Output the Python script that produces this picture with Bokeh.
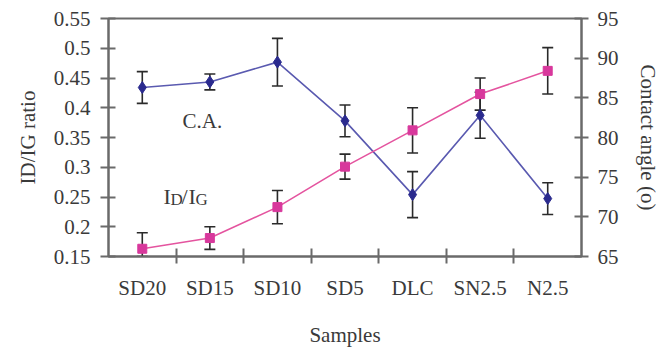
import math
from bokeh.plotting import figure
from bokeh.models import (ColumnDataSource, Range1d, LinearAxis, FixedTicker,
                          Whisker, TeeHead, Label)
from bokeh.embed import file_html
from bokeh.resources import INLINE

# ---- data ----
samples = ["SD20", "SD15", "SD10", "SD5", "DLC", "SN2.5", "N2.5"]
id_ig = [0.163, 0.181, 0.233, 0.301, 0.362, 0.423, 0.462]
id_ig_err = [0.027, 0.019, 0.028, 0.021, 0.038, 0.027, 0.039]
contact_angle = [86.3, 87.0, 89.5, 82.1, 72.8, 82.8, 72.3]
contact_angle_err = [2.0, 1.0, 3.0, 2.0, 2.9, 2.9, 2.0]
left_ticks = [0.15, 0.2, 0.25, 0.3, 0.35, 0.4, 0.45, 0.5, 0.55]
left_tick_labels = ["0.15", "0.2", "0.25", "0.3", "0.35", "0.4", "0.45", "0.5", "0.55"]
right_ticks = [65, 70, 75, 80, 85, 90, 95]
right_tick_labels = ["65", "70", "75", "80", "85", "90", "95"]

FONT = "Liberation Serif"
TXT = "#3a3a3a"
AX = "#6a6a6a"
BLUE_M = "#2a2a8e"
BLUE_L = "#5a5ab0"
PINK_M = "#d8389c"
PINK_L = "#e4549f"

n = len(samples)
xs = list(range(n))
y0, y1 = left_ticks[0], left_ticks[-1]

p = figure(width=666, height=349, output_backend="svg", toolbar_location=None,
           x_range=Range1d(-0.5, n - 0.5), y_range=Range1d(y0, y1),
           min_border_left=108, min_border_right=85, min_border_top=18,
           min_border_bottom=91)
p.extra_y_ranges = {"ca": Range1d(right_ticks[0], right_ticks[-1])}
p.xgrid.visible = False
p.ygrid.visible = False
p.outline_line_color = AX
p.outline_line_width = 2
p.background_fill_color = "white"
p.border_fill_color = "white"

def style_axis(ax):
    ax.axis_line_color = AX
    ax.axis_line_width = 2
    ax.major_tick_line_color = AX
    ax.major_tick_line_width = 2
    ax.minor_tick_line_color = AX
    ax.minor_tick_line_width = 2
    ax.major_label_text_font = FONT
    ax.major_label_text_font_size = "21px"
    ax.major_label_text_color = TXT
    ax.axis_label_text_font = FONT
    ax.axis_label_text_font_size = "21px"
    ax.axis_label_text_font_style = "normal"
    ax.axis_label_text_color = TXT

# bottom axis: labels at category centres, ticks at boundaries
xa = p.xaxis[0]
style_axis(xa)
xa.ticker = FixedTicker(ticks=xs, minor_ticks=[i + 0.5 for i in xs[:-1]])
xa.major_label_overrides = {i: s for i, s in zip(xs, samples)}
xa.major_tick_in = 0
xa.major_tick_out = 0
xa.minor_tick_in = 8
xa.minor_tick_out = 7
xa.major_label_standoff = 12
xa.axis_label = "Samples"
xa.axis_label_standoff = 20

ya = p.yaxis[0]
style_axis(ya)
ya.ticker = FixedTicker(ticks=left_ticks, minor_ticks=[])
ya.major_label_overrides = {t: s for t, s in zip(left_ticks, left_tick_labels)}
ya.major_tick_in = 7
ya.major_tick_out = 8
ya.minor_tick_in = 0
ya.minor_tick_out = 0
ya.major_label_standoff = 10
ya.axis_label = "ID/IG ratio"
ya.axis_label_standoff = 11

ra = LinearAxis(y_range_name="ca")
style_axis(ra)
ra.ticker = FixedTicker(ticks=right_ticks, minor_ticks=[])
ra.major_label_overrides = {t: s for t, s in zip(right_ticks, right_tick_labels)}
ra.major_tick_in = 7
ra.major_tick_out = 7
ra.minor_tick_in = 0
ra.minor_tick_out = 0
ra.major_label_standoff = 9
ra.axis_label = "Contact angle (o)"
ra.axis_label_standoff = 14
p.add_layout(ra, "right")

# sources
id_src = ColumnDataSource(dict(
    x=xs, y=id_ig,
    upper=[v + e for v, e in zip(id_ig, id_ig_err)],
    lower=[max(v - e, y0) for v, e in zip(id_ig, id_ig_err)]))
ca_src = ColumnDataSource(dict(
    x=xs, y=contact_angle,
    upper=[v + e for v, e in zip(contact_angle, contact_angle_err)],
    lower=[v - e for v, e in zip(contact_angle, contact_angle_err)]))

p.line("x", "y", source=ca_src, y_range_name="ca", line_color=BLUE_L, line_width=1.6)
p.line("x", "y", source=id_src, line_color=PINK_L, line_width=1.6)

for src, rn in ((id_src, "default"), (ca_src, "ca")):
    w = Whisker(base="x", upper="upper", lower="lower", source=src,
                y_range_name=rn, line_color="#2a2a2a", line_width=1.6,
                upper_head=TeeHead(size=11, line_color="#2a2a2a", line_width=1.6),
                lower_head=TeeHead(size=11, line_color="#2a2a2a", line_width=1.6))
    p.add_layout(w)

p.scatter("x", "y", source=id_src, marker="square", size=9,
          fill_color=PINK_M, line_color=PINK_M)
p.scatter("x", "y", source=ca_src, y_range_name="ca", marker="diamond", size=12,
          fill_color=BLUE_M, line_color=BLUE_M)

# in-plot labels
p.add_layout(Label(x=0.89, y=0.378, text="C.A.", text_font=FONT,
                   text_font_size="21px", text_color=TXT,
                   text_align="center", text_baseline="middle"))
parts = [("I", 0, 0, "22px"), ("D", 7, -3, "17px"), ("/", 18, 0, "22px"),
         ("I", 25, 0, "22px"), ("G", 32, -3, "17px")]
for t, dx, dy, fs in parts:
    p.add_layout(Label(x=0.314, y=0.2504, x_offset=dx, y_offset=dy, text=t,
                       text_font=FONT, text_font_size=fs, text_color=TXT,
                       text_align="left", text_baseline="alphabetic"))

open("out.html", "w").write(file_html(p, INLINE))
